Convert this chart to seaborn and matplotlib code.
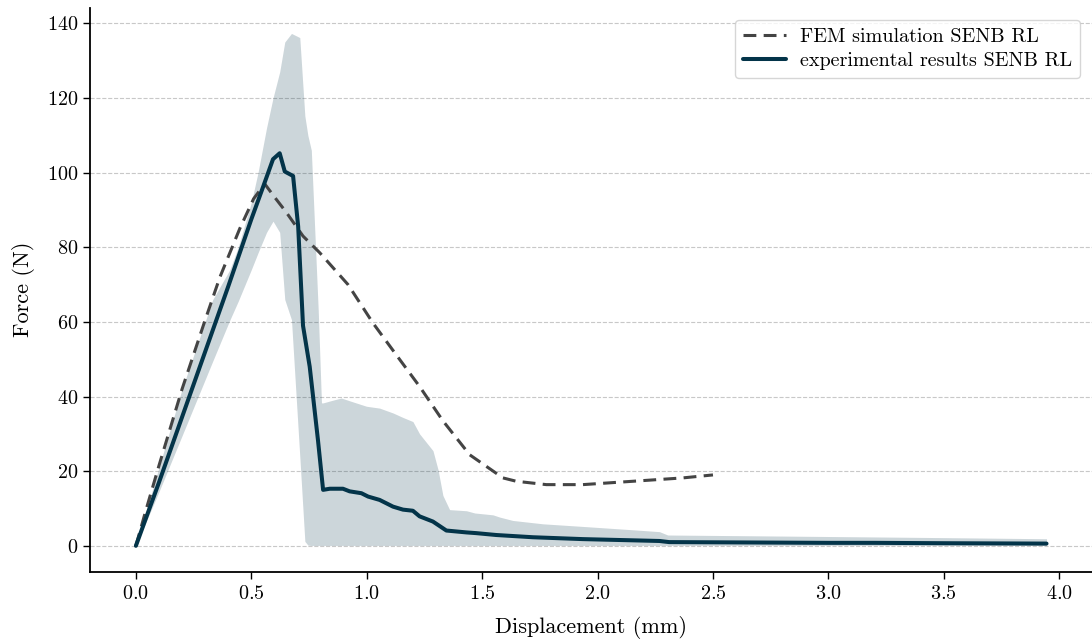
import matplotlib
matplotlib.use("Agg")
import matplotlib.pyplot as plt
import pandas as pd
import seaborn as sns

# FEM simulation (dashed)
fem_disp = [0, 0.04, 0.1, 0.2, 0.3, 0.364, 0.45, 0.51, 0.558, 0.6, 0.65, 0.724,
            0.797, 0.919, 1.027, 1.13, 1.229, 1.33, 1.446, 1.59, 1.648, 1.778,
            1.936, 2.153, 2.369, 2.5]
fem_force = [0, 8.8, 21.5, 42, 60.5, 72, 85, 93, 97, 93.5, 89.5, 83,
             78.5, 70, 59.7, 51, 42.7, 33.5, 24.4, 18.2, 17.3, 16.4,
             16.4, 17.3, 18.2, 19]

# experimental mean (solid)
exp_disp = [0, 0.1, 0.2, 0.3, 0.4, 0.45, 0.5, 0.55, 0.594, 0.623, 0.645, 0.681,
            0.703, 0.724, 0.753, 0.789, 0.811, 0.84, 0.897, 0.926, 0.977, 1.006,
            1.056, 1.114, 1.157, 1.2, 1.229, 1.287, 1.345, 1.431, 1.475, 1.561,
            1.72, 1.936, 2.268, 2.31, 2.658, 3.0, 3.2, 3.5, 3.945]
exp_force = [0, 17, 34.5, 52, 69.5, 78.5, 87.5, 96, 103.6, 105.2, 100.3, 99.1,
             85.6, 59, 48, 28.2, 15, 15.3, 15.3, 14.6, 14.1, 13.2,
             12.3, 10.5, 9.7, 9.4, 7.9, 6.5, 4.1, 3.6, 3.4, 2.9,
             2.3, 1.8, 1.3, 1.0, 0.9, 0.8, 0.8, 0.7, 0.6]

# experimental scatter band (min / max)
band_disp = [0, 0.1, 0.2, 0.333, 0.407, 0.443, 0.5, 0.529, 0.566, 0.594, 0.623,
             0.645, 0.674, 0.71, 0.732, 0.745, 0.76, 0.79, 0.804, 0.811, 0.84,
             0.87, 0.89, 0.934, 0.999, 1.056, 1.114, 1.157, 1.2, 1.229, 1.287,
             1.309, 1.33, 1.359, 1.432, 1.468, 1.547, 1.576, 1.633, 1.763, 1.936,
             2.153, 2.268, 2.304, 2.658, 3.0, 3.5, 3.945]
band_hi = [0, 21, 42, 66, 74, 80, 92, 100, 112, 120, 127,
           135, 137.3, 136.2, 115.2, 110, 106, 63, 38.3, 38.3, 38.8,
           39.3, 39.6, 38.7, 37.4, 36.9, 35.6, 34.4, 33.3, 30, 25.5,
           20.4, 13.5, 9.7, 9.4, 8.8, 8.3, 7.7, 6.8, 5.9, 5.2,
           4.3, 3.8, 2.9, 2.7, 2.5, 2.2, 1.9]
band_lo = [0, 14.5, 29.5, 49.5, 60.5, 65.5, 74, 78.5, 84, 87, 84,
           66, 60.6, 24, 1.2, 0.2, 0.1, 0.1, 0.1, 0.1, 0.1,
           0.1, 0.1, 0.1, 0.1, 0.1, 0.1, 0.1, 0.1, 0.1, 0.1,
           0.1, 0.1, 0.1, 0.1, 0.1, 0.1, 0.1, 0.1, 0.1, 0.1,
           0.1, 0.1, 0.1, 0.1, 0.1, 0.1, 0.1]

NAVY = "#033449"

sns.set_style("ticks")
plt.rcParams["font.family"] = ["cmr10", "DejaVu Serif"]
plt.rcParams["mathtext.fontset"] = "cm"
plt.rcParams["axes.formatter.use_mathtext"] = True
for key in ("text.color", "axes.labelcolor", "xtick.color", "ytick.color", "axes.edgecolor"):
    plt.rcParams[key] = "black"

fem = pd.DataFrame({"disp": fem_disp, "force": fem_force})
exp = pd.DataFrame({"disp": exp_disp, "force": exp_force})

fig, ax = plt.subplots(figsize=(10.92, 6.41), dpi=100)
fig.subplots_adjust(left=0.0828, right=1.0, bottom=0.1083, top=0.988)

ax.fill_between(band_disp, band_lo, band_hi, color=NAVY, alpha=0.2, linewidth=0)
sns.lineplot(data=fem, x="disp", y="force", ax=ax, color="#444444", linewidth=2.2,
             dashes=False, label="FEM simulation SENB RL", estimator=None)
sns.lineplot(data=exp, x="disp", y="force", ax=ax, color=NAVY, linewidth=2.9,
             label="experimental results SENB RL", estimator=None)
ax.lines[0].set_dashes((4.2, 2.4))

ax.set_xlim(-0.197, 4.142)
ax.set_ylim(-6.9, 144.2)
ax.set_xticks([0, 0.5, 1.0, 1.5, 2.0, 2.5, 3.0, 3.5, 4.0])
ax.set_yticks([0, 20, 40, 60, 80, 100, 120, 140])
ax.yaxis.grid(True, linestyle="--", linewidth=0.8, color="#c8c8c8")
ax.xaxis.grid(False)
ax.set_axisbelow(True)
ax.spines["top"].set_visible(False)
ax.spines["right"].set_visible(False)
for s in ("left", "bottom"):
    ax.spines[s].set_linewidth(1.3)
ax.tick_params(labelsize=14.5, length=5, width=1)
ax.tick_params(axis="x", pad=5)
ax.set_xlabel("Displacement (mm)", fontsize=16, labelpad=9)
ax.set_ylabel("Force (N)", fontsize=16, labelpad=8.5)
ax.legend(loc="upper right", fontsize=14.5, frameon=True, edgecolor="#cccccc",
          handlelength=2.1, handletextpad=0.7, labelspacing=0.3, borderaxespad=0.6)

fig.savefig("out.png", dpi=100)
